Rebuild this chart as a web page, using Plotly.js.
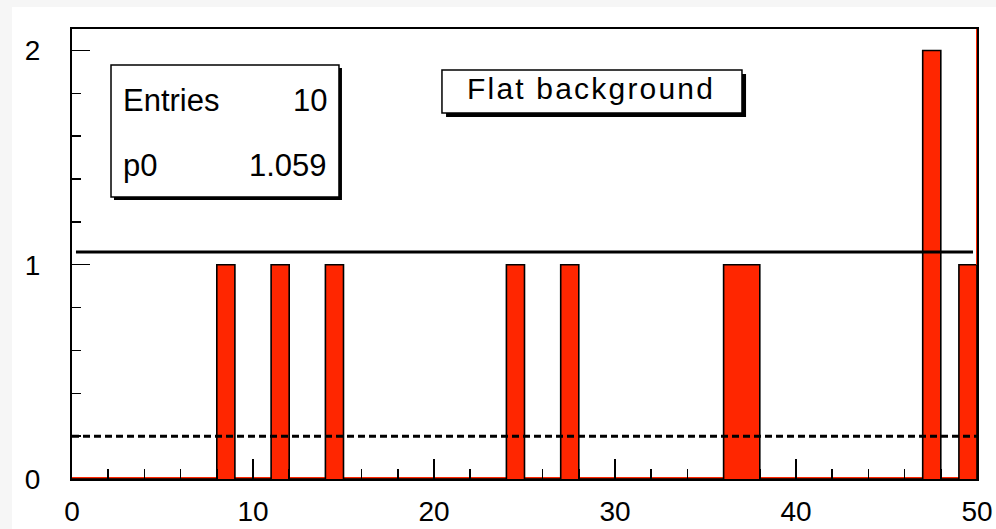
<!DOCTYPE html>
<html>
<head>
<meta charset="utf-8">
<script src="https://cdn.plot.ly/plotly-3.0.1.min.js"></script>
<style>
html,body{margin:0;padding:0;background:#f6f6f6;overflow:hidden;}
#chart{position:absolute;left:12px;top:7px;width:984px;height:522px;background:#fff;}
</style>
</head>
<body>
<div id="chart"></div>
<script>
// ---- data ----
const binLowEdges = Array.from({length: 50}, (_, i) => i); // bin width 1, range 0..50
const counts = [
  0,0,0,0,0,0,0,0,1,0,
  0,1,0,0,1,0,0,0,0,0,
  0,0,0,0,1,0,0,1,0,0,
  0,0,0,0,0,0,1,1,0,0,
  0,0,0,0,0,0,0,2,0,1
];
const entries = 10;
const p0 = 1.059;            // flat fit value
const fitRange = [0.22, 49.78];
const dashedLevel = 0.2;
const dashedRange = [0, 50];
const xTickVals = [0, 10, 20, 30, 40, 50];
const yTickVals = [0, 1, 2];
const titleText = 'Flat background';

const RED = '#ff2600';
const FONT = 'Liberation Sans, Arial, Helvetica, sans-serif';

const binCenters = binLowEdges.map(e => e + 0.5);
// step outline of the histogram (ROOT draws one outline, no dividers between adjacent bins)
const outlineX = binLowEdges.concat([50, 50]);
const outlineY = counts.concat([counts[counts.length - 1], 0]);

const traces = [
  {
    type: 'bar', x: binCenters, y: counts, width: 1,
    marker: {color: RED, line: {width: 0}},
    hoverinfo: 'skip'
  },
  { // zero-level red edge of empty bins
    type: 'scatter', mode: 'lines', x: [0, 50], y: [0.005, 0.005],
    line: {color: RED, width: 2}, hoverinfo: 'skip'
  },
  { // histogram outline
    type: 'scatter', mode: 'lines', x: outlineX, y: outlineY,
    line: {color: '#000', width: 1.6, shape: 'hv'}, hoverinfo: 'skip'
  },
  { // fit function
    type: 'scatter', mode: 'lines', x: fitRange, y: [p0, p0],
    line: {color: '#000', width: 3}, hoverinfo: 'skip'
  },
  { // dashed level
    type: 'scatter', mode: 'lines', x: dashedRange, y: [dashedLevel, dashedLevel],
    line: {color: '#000', width: 3, dash: '7px,4px'}, hoverinfo: 'skip'
  }
];

const layout = {
  width: 984, height: 522,
  margin: {l: 60, r: 19, t: 22, b: 50, pad: 0},
  paper_bgcolor: '#fff', plot_bgcolor: '#fff',
  showlegend: false, bargap: 0,
  font: {family: FONT, size: 28, color: '#000'},
  xaxis: {
    range: [0, 50], tickvals: xTickVals, ticktext: xTickVals.map(String),
    ticks: 'inside', ticklen: 20, tickwidth: 1.5, tickcolor: '#000',
    minor: {dtick: 2, ticks: 'inside', ticklen: 10, tickwidth: 1.5, tickcolor: '#000'},
    showline: true, linecolor: '#000', linewidth: 2, mirror: true,
    showgrid: false, zeroline: false, fixedrange: true,
    ticklabelstandoff: 6,
    tickfont: {family: FONT, size: 28, color: '#000'}
  },
  yaxis: {
    range: [0, 2.1], tickvals: yTickVals, ticktext: yTickVals.map(String),
    ticks: 'inside', ticklen: 18, tickwidth: 1.5, tickcolor: '#000',
    minor: {dtick: 0.2, ticks: 'inside', ticklen: 9, tickwidth: 1.5, tickcolor: '#000'},
    showline: true, linecolor: '#000', linewidth: 2, mirror: true,
    showgrid: false, zeroline: false, fixedrange: true,
    ticklabelstandoff: 24,
    tickfont: {family: FONT, size: 28, color: '#000'}
  },
  shapes: [
    // stats box shadow + box
    {type: 'rect', xref: 'paper', yref: 'paper', x0: 0.0464, x1: 0.2983, y0: 0.620, y1: 0.9133,
     fillcolor: '#000', line: {width: 0}, layer: 'above'},
    {type: 'rect', xref: 'paper', yref: 'paper', x0: 0.0431, x1: 0.2950, y0: 0.6267, y1: 0.92,
     fillcolor: '#fff', line: {color: '#000', width: 1.5}, layer: 'above'},
    // title box shadow + box
    {type: 'rect', xref: 'paper', yref: 'paper', x0: 0.4133, x1: 0.7448, y0: 0.8044, y1: 0.90,
     fillcolor: '#000', line: {width: 0}, layer: 'above'},
    {type: 'rect', xref: 'paper', yref: 'paper', x0: 0.4088, x1: 0.7403, y0: 0.8133, y1: 0.9089,
     fillcolor: '#fff', line: {color: '#000', width: 1.5}, layer: 'above'},
    // red right edge
    {type: 'line', xref: 'x', yref: 'y', x0: 50, x1: 50, y0: 1, y1: 2.1,
     line: {color: RED, width: 2}, layer: 'above'}
  ],
  annotations: [
    {xref: 'paper', yref: 'paper', x: 0.054, y: 0.842, xanchor: 'left', yanchor: 'middle',
     text: 'Entries', showarrow: false, font: {family: FONT, size: 31, color: '#000'}},
    {xref: 'paper', yref: 'paper', x: 0.2835, y: 0.842, xanchor: 'right', yanchor: 'middle',
     text: String(entries), showarrow: false, font: {family: FONT, size: 31, color: '#000'}},
    {xref: 'paper', yref: 'paper', x: 0.054, y: 0.6956, xanchor: 'left', yanchor: 'middle',
     text: 'p0', showarrow: false, font: {family: FONT, size: 31, color: '#000'}},
    {xref: 'paper', yref: 'paper', x: 0.2835, y: 0.6956, xanchor: 'right', yanchor: 'middle',
     text: p0.toFixed(3), showarrow: false, font: {family: FONT, size: 31, color: '#000'}},
    {xref: 'paper', yref: 'paper', x: 0.574, y: 0.868, xanchor: 'center', yanchor: 'middle',
     text: '<span style="letter-spacing:2.2px">' + titleText + '</span>', showarrow: false,
     font: {family: FONT, size: 30, color: '#000'}}
  ]
};

Plotly.newPlot('chart', traces, layout, {displayModeBar: false, staticPlot: true});
</script>
</body>
</html>
